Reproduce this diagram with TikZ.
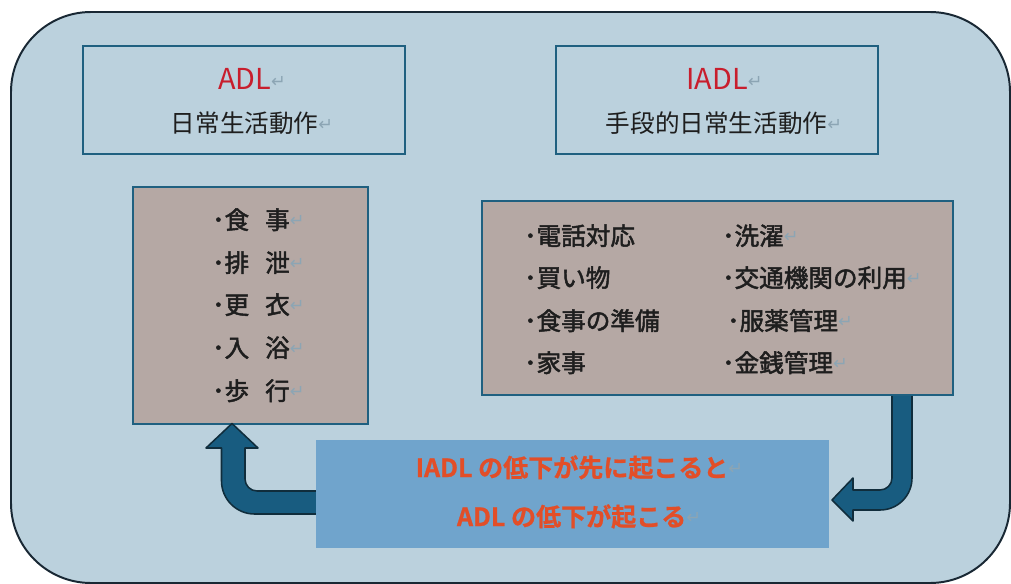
\documentclass[tikz,border=0pt]{standalone}
\usepackage{fontspec}
\setmainfont{Noto Sans CJK JP}
\newfontfamily\retfont{DejaVu Sans}
\newfontfamily\jpmed[FakeBold=2]{Noto Sans CJK JP}
\newfontfamily\jpheavy[FakeBold=1]{Noto Sans CJK JP Bold}
\definecolor{bgblue}{RGB}{187,209,221}
\definecolor{outerline}{RGB}{25,40,52}
\definecolor{teal}{RGB}{31,96,128}
\definecolor{taupe}{RGB}{181,168,164}
\definecolor{boxblue}{RGB}{112,164,204}
\definecolor{arrfill}{RGB}{24,92,128}
\definecolor{arrline}{RGB}{16,45,60}
\definecolor{titlered}{RGB}{200,30,45}
\definecolor{orangered}{RGB}{226,78,40}
\definecolor{txt}{RGB}{30,30,30}
\definecolor{retgray}{RGB}{140,165,180}
\newcommand\ret{{\retfont\fontsize{12.5pt}{12.5pt}\selectfont\color{retgray}\raisebox{1.5pt}{↵}}}
\begin{document}
\begin{tikzpicture}[x=0.025cm,y=-0.025cm,
  titlebox/.style={draw=teal,line width=2pt,minimum width=8.05cm,minimum height=2.7cm,inner sep=0pt},
  listbox/.style={draw=teal,line width=1.6pt,fill=taupe,inner sep=0pt},
  txtl/.style={anchor=base west,inner sep=0pt,text=txt,font=\jpmed\fontsize{17.5pt}{17.5pt}\selectfont},
  txtc/.style={anchor=base,inner sep=0pt,text=txt,font=\fontsize{17.5pt}{17.5pt}\selectfont},
  redt/.style={anchor=base,inner sep=0pt,text=titlered,font=\fontsize{20.5pt}{20.5pt}\selectfont},
  oranget/.style={anchor=base,inner sep=0pt,text=orangered,font=\jpheavy\fontsize{17.8pt}{17.8pt}\selectfont},
  blockarrow/.style={fill=arrfill,draw=arrline,line width=1.1pt,line join=round}]
\useasboundingbox (0,0) rectangle (1011,584);
% outer frame
\draw[fill=bgblue,draw=outerline,line width=1.4pt,rounded corners=2cm] (11,12) rectangle (1010,583);
% title boxes
\node[titlebox] (adlt) at (244,100) {};
\node[titlebox] (iadlt) at (717,100) {};
\node[redt] (adlh) at (252,89.5) {ADL\ret};
\node[txtc] (adls) at (252,132.5) {日常生活動作\ret};
\node[redt] (iadlh) at (724.5,89.5) {IADL\ret};
\node[txtc] (iadls) at (724,132.5) {手段的日常生活動作\ret};
% right block arrow (IADL list -> blue box)
\draw[blockarrow] (892,392) -- (892,478) .. controls (892,484.6) and (886.6,490) .. (880,490)
  -- (853,490) -- (853,478) -- (832,500) -- (853,521) -- (853,510) -- (880,510)
  .. controls (897.7,510) and (912,495.7) .. (912,478) -- (912,392) -- cycle;
% list boxes
\node[listbox,minimum width=5.875cm,minimum height=5.925cm] (adll) at (250.5,305.5) {};
\node[listbox,minimum width=11.775cm,minimum height=4.85cm] (iadll) at (717.5,298) {};
% ADL items
\node[txtl] (a1) at (212,229) {･食\hspace{0.4cm}事\ret};
\node[txtl] (a2) at (212,272) {･排\hspace{0.4cm}泄\ret};
\node[txtl] (a3) at (212,314) {･更\hspace{0.4cm}衣\ret};
\node[txtl] (a4) at (212,357) {･入\hspace{0.4cm}浴\ret};
\node[txtl] (a5) at (212,400) {･歩\hspace{0.4cm}行\ret};
% IADL items
\node[txtl] (b1) at (524,245) {･電話対応};
\node[txtl] (b2) at (524,287) {･買い物};
\node[txtl] (b3) at (524,330) {･食事の準備};
\node[txtl] (b4) at (524,372) {･家事};
\node[txtl] (c1) at (722,245) {･洗濯\ret};
\node[txtl] (c2) at (722,287) {･交通機関の利用\ret};
\node[txtl] (c3) at (727,330) {･服薬管理\ret};
\node[txtl] (c4) at (722,372) {･金銭管理\ret};
% left block arrow (blue box -> ADL list)
\draw[blockarrow] (322,514) -- (254.5,514) .. controls (236.3,514) and (221.5,499.2) .. (221.5,481)
  -- (221.5,448) -- (206,448) -- (232,423.5) -- (258,448) -- (245,448) -- (245,479)
  .. controls (245,485.6) and (250.4,491) .. (257,491) -- (322,491) -- cycle;
% blue box
\node[fill=boxblue,minimum width=12.825cm,minimum height=2.7cm,inner sep=0pt] (blue) at (572.5,494) {};
\node[oranget] (m1) at (579.5,477) {IADL の低下が先に起こると\ret};
\node[oranget] (m2) at (579,526) {ADL の低下が起こる\ret};
\end{tikzpicture}
\end{document}
